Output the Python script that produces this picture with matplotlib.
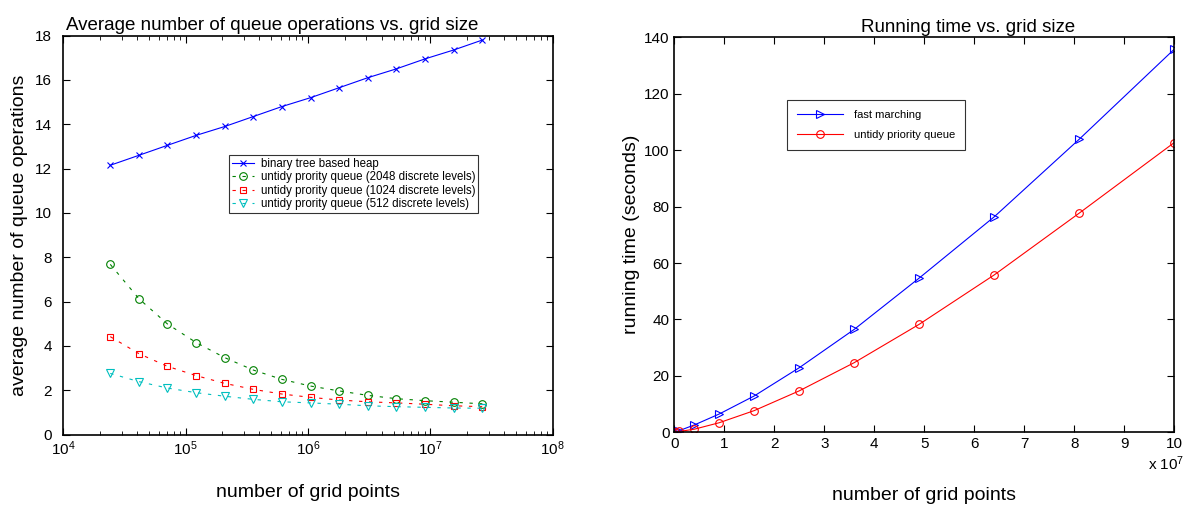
import math
import matplotlib
matplotlib.use("Agg")
import matplotlib.pyplot as plt
from matplotlib.ticker import FixedLocator, NullFormatter, FuncFormatter, LogLocator

plt.rcParams['font.family'] = ['Liberation Sans', 'DejaVu Sans']
plt.rcParams['mathtext.fontset'] = 'custom'
plt.rcParams['mathtext.rm'] = 'Liberation Sans'

# ---- Left chart data ----
grid_points_left = [2.42e4, 4.15e4, 7.1e4, 1.22e5, 2.09e5, 3.58e5, 6.13e5,
                    1.05e6, 1.80e6, 3.08e6, 5.28e6, 9.05e6, 1.55e7, 2.66e7]
heap_ops = [12.15, 12.6, 13.05, 13.5, 13.9, 14.35, 14.8,
            15.2, 15.65, 16.1, 16.5, 16.95, 17.35, 17.8]
upq_2048 = [7.68, 6.13, 4.99, 4.15, 3.47, 2.91, 2.49,
            2.19, 1.97, 1.77, 1.62, 1.53, 1.46, 1.39]
upq_1024 = [4.42, 3.65, 3.08, 2.66, 2.31, 2.04, 1.83,
            1.68, 1.56, 1.48, 1.43, 1.37, 1.30, 1.26]
upq_512 = [2.76, 2.39, 2.10, 1.89, 1.73, 1.59, 1.48,
           1.43, 1.37, 1.30, 1.26, 1.23, 1.20, 1.19]
left_labels = ['binary tree based heap',
               'untidy prority queue (2048 discrete levels)',
               'untidy prority queue (1024 discrete levels)',
               'untidy prority queue (512 discrete levels)']

# ---- Right chart data ----
grid_points_right = [1e5, 1e6, 4e6, 9e6, 1.6e7, 2.5e7, 3.6e7, 4.9e7, 6.4e7, 8.1e7, 1e8]
time_fast_marching = [0.1, 0.6, 2.6, 6.5, 12.9, 22.9, 36.5, 54.7, 76.4, 103.9, 135.8]
time_untidy = [0.0, 0.3, 1.1, 3.4, 7.7, 14.7, 24.7, 38.3, 55.8, 77.7, 102.7]
right_labels = ['fast marching', 'untidy priority queue']

W, H = 1197, 505
fig = plt.figure(figsize=(W / 100, H / 100), dpi=100)

def rect(x0, y0, x1, y1):
    return [x0 / W, 1 - y1 / H, (x1 - x0) / W, (y1 - y0) / H]

ax1 = fig.add_axes(rect(63.3, 35.6, 552.7, 434.6))
ax2 = fig.add_axes(rect(674.3, 37.3, 1174.3, 432.3))

lw = 0.8
blue, green, red, cyan = '#0000ff', '#008000', '#ff0000', '#00bfbf'
dash = (0, (3, 6))

ax1.plot(grid_points_left, heap_ops, color=blue, lw=lw, marker='x', ms=5, mew=0.8,
         label=left_labels[0])
ax1.plot(grid_points_left, upq_2048, color=green, lw=lw, ls=dash, marker='o', ms=5.5,
         mfc='none', mew=0.8, label=left_labels[1])
ax1.plot(grid_points_left, upq_1024, color=red, lw=lw, ls=dash, marker='s', ms=4.8,
         mfc='none', mew=0.8, label=left_labels[2])
ax1.plot(grid_points_left, upq_512, color=cyan, lw=lw, ls=dash, marker='v', ms=6,
         mfc='none', mew=0.8, label=left_labels[3])

ax1.set_xscale('log')
ax1.set_xlim(1e4, 1e8)
ax1.set_ylim(0, 18)
ax1.set_yticks(range(0, 19, 2))
ax1.xaxis.set_major_locator(FixedLocator([1e4, 1e5, 1e6, 1e7, 1e8]))
ax1.xaxis.set_minor_locator(LogLocator(base=10, subs=range(2, 10), numticks=20))
ax1.xaxis.set_minor_formatter(NullFormatter())
ax1.xaxis.set_major_formatter(FuncFormatter(
    lambda v, p: r'$\mathregular{10^{%d}}$' % round(math.log10(v))))
t1 = ax1.set_title('Average number of queue operations vs. grid size', fontsize=13.5, pad=4)
t1.set_x(0.4275)
ax1.set_xlabel('number of grid points', fontsize=14, labelpad=19)
ax1.set_ylabel('average number of queue operations', fontsize=14, labelpad=5)
leg1 = ax1.legend(loc='upper left', bbox_to_anchor=(0.3386, 0.7008), fontsize=8.3,
                  handlelength=1.9, handletextpad=0.6, borderpad=0.25, labelspacing=0.12,
                  borderaxespad=0, frameon=True, fancybox=False, edgecolor='black',
                  markerscale=1)
leg1.get_frame().set_linewidth(0.8)

ax2.plot(grid_points_right, time_fast_marching, color=blue, lw=lw, marker='>', ms=5.5,
         mfc='none', mew=0.8, label=right_labels[0])
ax2.plot(grid_points_right, time_untidy, color=red, lw=lw, marker='o', ms=5.5,
         mfc='none', mew=0.8, label=right_labels[1])
ax2.set_xlim(0, 1e8)
ax2.set_ylim(0, 140)
ax2.set_xticks([i * 1e7 for i in range(11)])
ax2.xaxis.set_major_formatter(FuncFormatter(lambda v, p: '%d' % round(v / 1e7)))
ax2.set_yticks(range(0, 141, 20))
t2 = ax2.set_title('Running time vs. grid size', fontsize=13.5, pad=4)
t2.set_x(0.587)
ax2.set_xlabel('number of grid points', fontsize=14, labelpad=26)
ax2.set_ylabel('running time (seconds)', fontsize=14, labelpad=3)
ax2.text(0.983, -0.057, r'x $\mathregular{10^7}$', transform=ax2.transAxes, ha='center',
         va='top', fontsize=11)
leg2 = ax2.legend(loc='upper left', bbox_to_anchor=(0.2254, 0.841), fontsize=8,
                  handlelength=4.1, handletextpad=1.0, borderpad=0.9, labelspacing=0.9,
                  borderaxespad=0, frameon=True, fancybox=False, edgecolor='black',
                  markerscale=1)
leg2.get_frame().set_linewidth(0.8)

for ax in (ax1, ax2):
    ax.tick_params(which='both', direction='in', top=True, right=True, labelsize=11)
    ax.tick_params(which='major', length=5, width=0.8)
    ax.tick_params(which='minor', length=3, width=0.6)
    for s in ax.spines.values():
        s.set_linewidth(1.2)
ax1.tick_params(axis='y', which='major', pad=8)

fig.savefig('out.png', dpi=100)
